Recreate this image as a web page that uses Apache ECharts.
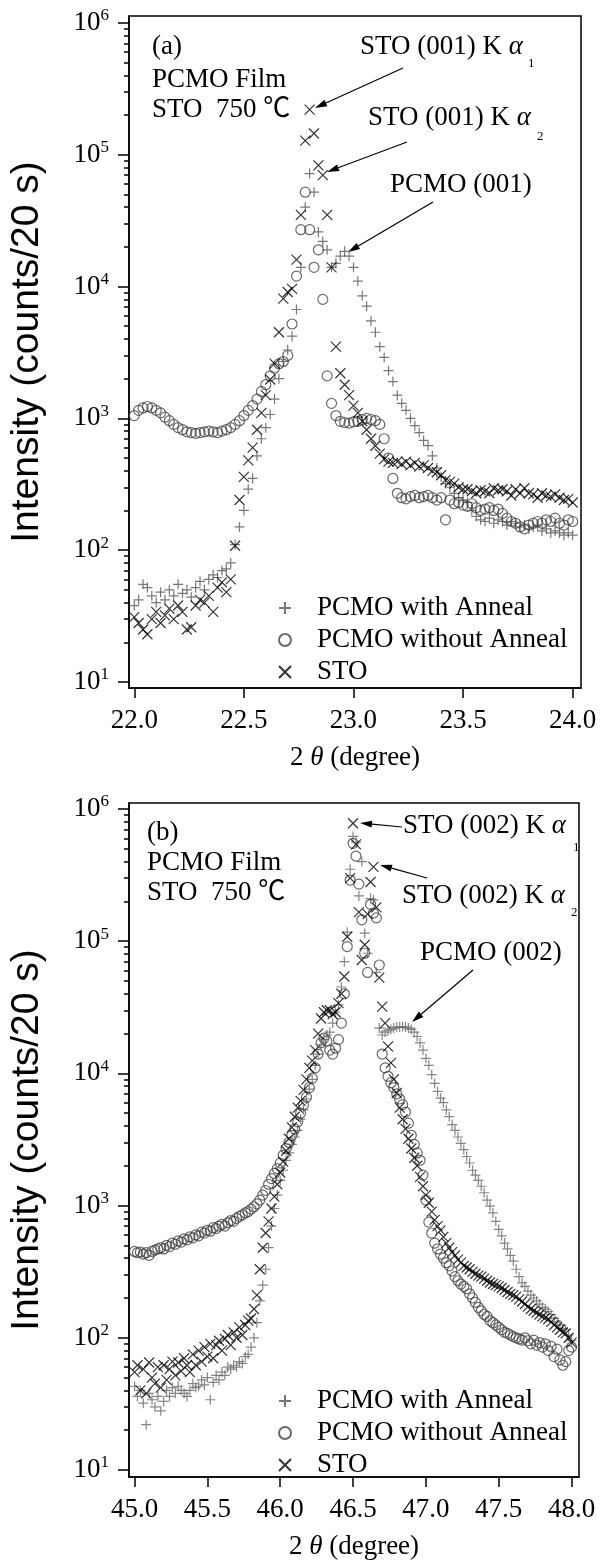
<!DOCTYPE html>
<html>
<head>
<meta charset="utf-8">
<script src="https://cdn.jsdelivr.net/npm/echarts@6.0.0/dist/echarts.min.js"></script>
<style>
  html, body { margin: 0; padding: 0; background: #fff; }
  #chart { width: 608px; height: 1561px; }
</style>
</head>
<body>
<div id="chart"></div>
<script>
// panel (a): 2theta scan around STO (001)
var xTop = [
  22.00, 22.02, 22.04, 22.06, 22.08, 22.10, 22.12, 22.14, 22.16, 22.18,
  22.20, 22.22, 22.24, 22.26, 22.28, 22.30, 22.32, 22.34, 22.36, 22.38,
  22.40, 22.42, 22.44, 22.46, 22.48, 22.50, 22.52, 22.54, 22.56, 22.58,
  22.60, 22.62, 22.64, 22.66, 22.68, 22.70, 22.72, 22.74, 22.76, 22.78,
  22.80, 22.82, 22.84, 22.86, 22.88, 22.90, 22.92, 22.94, 22.96, 22.98,
  23.00, 23.02, 23.04, 23.06, 23.08, 23.10, 23.12, 23.14, 23.16, 23.18,
  23.20, 23.22, 23.24, 23.26, 23.28, 23.30, 23.32, 23.34, 23.36, 23.38,
  23.40, 23.42, 23.44, 23.46, 23.48, 23.50, 23.52, 23.54, 23.56, 23.58,
  23.60, 23.62, 23.64, 23.66, 23.68, 23.70, 23.72, 23.74, 23.76, 23.78,
  23.80, 23.82, 23.84, 23.86, 23.88, 23.90, 23.92, 23.94, 23.96, 23.98,
  24.00
];
var topAnneal = [
  38, 42, 55, 52, 45, 40, 48, 42, 50, 45,
  55, 47, 50, 44, 52, 58, 50, 60, 65, 62,
  70, 72, 80, 110, 150, 200, 290, 350, 520, 700,
  850, 1070, 1400, 2000, 2700, 3300, 4200, 6700, 14000, 40000,
  72000, 52000, 26000, 22000, 19000, 14000, 15000, 17000, 18500, 17000,
  14000, 11000, 8500, 7100, 5500, 4500, 3500, 2900, 2300, 1900,
  1500, 1300, 1150, 1000, 880, 780, 680, 620, 520, 420,
  360, 320, 300, 270, 250, 240, 230, 200, 180, 170,
  165, 175, 160, 170, 165, 155, 165, 160, 150, 155,
  145, 150, 155, 140, 145, 135, 140, 135, 130, 135,
  130
];
var topNoAnneal = [
  1050, 1150, 1200, 1230, 1200, 1150, 1100, 1020, 960, 900,
  850, 820, 790, 780, 770, 780, 790, 800, 790, 780,
  800, 820, 850, 900, 960, 1050, 1150, 1250, 1400, 1600,
  1800, 2100, 2400, 2600, 2700, 3000, 5200, 12000, 27000, 52000,
  27000, 14000, 19000, 8000, 2100, 1300, 1050, 950, 930, 920,
  940, 950, 980, 1000, 980, 960, 900, 700, 500, 350,
  270, 250, 245, 255, 260, 250, 255, 260, 250, 240,
  250, 170, 240, 225, 230, 220, 215, 225, 210, 200,
  205, 210, 200, 205, 190, 175, 165, 160, 150, 145,
  155, 160, 165, 160, 170, 165, 175, 160, 155, 170,
  165
];
var topSTO = [
  31, 28, 25, 23, 30, 34, 28, 32, 36, 30,
  38, 34, 25, 26, 38, 42, 40, 45, 34, 52,
  57, 48, 60, 108, 240, 360, 480, 600, 820, 1100,
  1500, 1970, 2600, 4500, 8100, 9100, 9600, 16000, 35000, 128000,
  220000, 145000, 83000, 70000, 35000, 14000, 3500, 2200, 1800, 1500,
  1250, 1100, 950, 820, 700, 620, 540, 490, 470, 460,
  470, 450, 470, 440, 460, 430, 440, 420, 400, 390,
  370, 340, 330, 320, 300, 290, 290, 280, 270, 285,
  280, 270, 295, 285, 290, 280, 260, 290, 270, 295,
  270, 265, 250, 270, 260, 255, 265, 250, 240, 245,
  230
];

// panel (b): 2theta scan around STO (002)
var xBot = [
  45.00, 45.02, 45.04, 45.06, 45.08, 45.10, 45.12, 45.14, 45.16, 45.18,
  45.20, 45.22, 45.24, 45.26, 45.28, 45.30, 45.32, 45.34, 45.36, 45.38,
  45.40, 45.42, 45.44, 45.46, 45.48, 45.50, 45.52, 45.54, 45.56, 45.58,
  45.60, 45.62, 45.64, 45.66, 45.68, 45.70, 45.72, 45.74, 45.76, 45.78,
  45.80, 45.82, 45.84, 45.86, 45.88, 45.90, 45.92, 45.94, 45.96, 45.98,
  46.00, 46.02, 46.04, 46.06, 46.08, 46.10, 46.12, 46.14, 46.16, 46.18,
  46.20, 46.22, 46.24, 46.26, 46.28, 46.30, 46.32, 46.34, 46.36, 46.38,
  46.40, 46.42, 46.44, 46.46, 46.48, 46.50, 46.52, 46.54, 46.56, 46.58,
  46.60, 46.62, 46.64, 46.66, 46.68, 46.70, 46.72, 46.74, 46.76, 46.78,
  46.80, 46.82, 46.84, 46.86, 46.88, 46.90, 46.92, 46.94, 46.96, 46.98,
  47.00, 47.02, 47.04, 47.06, 47.08, 47.10, 47.12, 47.14, 47.16, 47.18,
  47.20, 47.22, 47.24, 47.26, 47.28, 47.30, 47.32, 47.34, 47.36, 47.38,
  47.40, 47.42, 47.44, 47.46, 47.48, 47.50, 47.52, 47.54, 47.56, 47.58,
  47.60, 47.62, 47.64, 47.66, 47.68, 47.70, 47.72, 47.74, 47.76, 47.78,
  47.80, 47.82, 47.84, 47.86, 47.88, 47.90, 47.92, 47.94, 47.96, 47.98,
  48.00
];
var botAnneal = [
  43, 36, 40, 32, 22, 38, 34, 30, 36, 28,
  33, 40, 36, 42, 38, 43, 40, 38, 36, 40,
  45, 42, 43, 48, 44, 50, 34, 46, 52, 48,
  55, 52, 60, 58, 62, 60, 66, 64, 72, 75,
  85, 100, 130, 190, 250, 330, 480, 700, 950, 1200,
  1550, 1850, 2200, 2500, 2900, 3300, 3700, 4500, 5300, 6400,
  7600, 9000, 11500, 14000, 16500, 18000, 19500, 20500, 24000, 29000,
  33000, 45000, 70000, 117000, 350000, 620000, 560000, 220000, 400000, 115000,
  81000, 210000, 205000, 58000, 22000, 19500, 20500, 21000, 21500, 22000,
  22400, 22400, 22500, 22400, 22000, 21500, 20500, 19000, 17000, 15000,
  13000, 11500, 9800, 8400, 7300, 6500, 6000, 5300, 4700, 4100,
  3700, 3300, 2950, 2650, 2350, 2100, 1850, 1700, 1550, 1400,
  1250, 1100, 990, 880, 760, 660, 590, 520, 470, 420,
  380, 330, 290, 260, 245, 225, 210, 200, 190, 180,
  170, 165, 158, 150, 140, 132, 125, 118, 115, 105,
  95
];
var botNoAnneal = [
  450, 440, 445, 430, 440, 420, 450, 460, 470, 480,
  470, 500, 490, 520, 510, 540, 530, 560, 550, 580,
  570, 600, 590, 630, 620, 650, 640, 680, 670, 700,
  720, 700, 740, 770, 760, 800, 830, 850, 880, 900,
  940, 980, 1030, 1100, 1200, 1300, 1450, 1600, 1750, 1900,
  2100, 2400, 2700, 3000, 3400, 3800, 4300, 5000, 5800, 6600,
  7800, 9200, 11000, 14000, 17000, 18500, 17500, 15000, 14000, 15500,
  18000, 24000, 40000, 91000, 290000, 550000, 440000, 270000, 145000, 81000,
  58000, 190000, 163000, 150000, 66000, 14000, 11000, 9500, 8500, 7800,
  7000, 6400, 5800, 5100, 4200, 3400, 2900, 2500, 2200, 1700,
  1100, 750, 620, 520, 470, 430, 400, 370, 350, 320,
  290, 270, 255, 245, 235, 215, 200, 185, 170, 160,
  150, 145, 135, 130, 125, 120, 115, 110, 108, 105,
  102, 100, 98, 96, 100, 95, 90, 96, 88, 92,
  85, 90, 80, 86, 72, 82, 68, 62, 66, 80,
  85
];
var botSTO = [
  55, 62, 40, 58, 38, 65, 50, 45, 60, 42,
  62, 48, 58, 66, 52, 65, 56, 70, 62, 55,
  75, 62, 80, 66, 85, 72, 90, 70, 88, 95,
  80, 98, 105, 88, 110, 100, 120, 105, 125, 135,
  140, 165, 210, 330, 480, 620, 760, 950, 1170, 1450,
  1780, 2150, 2600, 3200, 3900, 4700, 5500, 6200, 7500, 9000,
  11000, 12500, 15000, 20000, 26000, 29000, 30000, 30000, 28000, 29000,
  34000, 40000, 54000, 108000, 300000, 780000, 540000, 166000, 72000, 94000,
  160000, 280000, 365000, 180000, 53000, 32000, 24000, 16000, 12000, 9000,
  7100, 5500, 4500, 3800, 3200, 2700, 2300, 2000, 1650, 1400,
  1200, 1050, 900, 780, 700, 650, 580, 520, 480, 445,
  420, 390, 370, 350, 340, 330, 315, 305, 295, 290,
  280, 270, 262, 255, 250, 245, 238, 230, 222, 215,
  210, 205, 195, 188, 180, 172, 165, 160, 155, 150,
  145, 142, 138, 132, 125, 120, 115, 110, 108, 100,
  92
];

var xTicksTop = [22.0, 22.5, 23.0, 23.5, 24.0];
var xTicksBot = [45.0, 45.5, 46.0, 46.5, 47.0, 47.5, 48.0];
var decades = [1, 2, 3, 4, 5, 6];
var names = ['PCMO with Anneal', 'PCMO without Anneal', 'STO'];

var serif = '"Liberation Serif", "Times New Roman", "Noto Sans CJK SC", serif';
var plusPath = 'path://M5,0L5,10M0,5L10,5';
var crossPath = 'path://M0,0L10,10M10,0L0,10';

// minor ticks of the log scale (2..9 x 10^n), in log10 units
var minorTicks = [];
for (var n = 1; n < 6; n++) {
  for (var k = 2; k < 10; k++) {
    minorTicks.push(n + Math.log10(k));
  }
}

function logPoints(xs, ys) {
  return xs.map(function (x, i) { return [x, Math.log10(ys[i])]; });
}

function xAxisFor(idx, min, max, ticks) {
  return {
    type: 'value', gridIndex: idx, min: min, max: max,
    name: '{a|2 }{g|θ}{a| (degree)}', nameLocation: 'middle', nameGap: 56,
    nameTextStyle: {
      rich: {
        a: { fontFamily: serif, fontSize: 27, color: '#000' },
        g: { fontFamily: serif, fontSize: 27, color: '#000', fontStyle: 'italic' }
      }
    },
    axisLine: { lineStyle: { color: '#000', width: 1.5 } },
    axisTick: { customValues: ticks, length: 10, inside: false, lineStyle: { color: '#000', width: 1.5 } },
    axisLabel: {
      customValues: ticks, margin: 19, color: '#000', fontFamily: serif, fontSize: 27,
      formatter: function (v) { return v.toFixed(1); }
    },
    splitLine: { show: false }
  };
}

function yAxesFor(idx, min, max) {
  return [{
    type: 'value', gridIndex: idx, min: min, max: max, position: 'left',
    name: 'Intensity (counts/20 s)', nameLocation: 'middle', nameGap: 82,
    nameTextStyle: { fontFamily: '"Liberation Sans", Arial, sans-serif', fontSize: 39, color: '#000' },
    axisLine: { lineStyle: { color: '#000', width: 1.5 } },
    axisTick: { customValues: decades, length: 11, lineStyle: { color: '#000', width: 1.5 } },
    axisLabel: {
      customValues: decades, margin: 20,
      formatter: function (v) { return '{b|10}{s|' + Math.round(v) + '}'; },
      rich: {
        b: { fontFamily: serif, fontSize: 27, color: '#000' },
        s: { fontFamily: serif, fontSize: 17, color: '#000', padding: [0, 0, 14, 0] }
      }
    },
    splitLine: { show: false }
  }, {
    type: 'value', gridIndex: idx, min: min, max: max, position: 'left',
    axisLine: { show: false },
    axisTick: { customValues: minorTicks, length: 5, lineStyle: { color: '#000', width: 1.5 } },
    axisLabel: { show: false },
    splitLine: { show: false }
  }];
}

function scatter(name, idx, data, symbol, size, color) {
  return {
    name: name, type: 'scatter', xAxisIndex: idx, yAxisIndex: idx * 2,
    data: data, symbol: symbol, symbolSize: size, symbolKeepAspect: true,
    itemStyle: { color: 'transparent', borderColor: color, borderWidth: 1.2 },
    emphasis: { disabled: true }
  };
}

function label(text, x, y) {
  return { type: 'text', x: x, y: y, style: { text: text, font: '27px ' + serif, fill: '#000', verticalAlign: 'middle' } };
}
function peakLabel(text, x, y) {
  return {
    type: 'text', x: x, y: y,
    style: {
      text: '{n|' + text + ' }{g|α}', verticalAlign: 'middle',
      rich: {
        n: { fontFamily: serif, fontSize: 27, fill: '#000' },
        g: { fontFamily: serif, fontSize: 27, fill: '#000', fontStyle: 'italic' }
      }
    }
  };
}
function sub(text, x, y) {
  return { type: 'text', x: x, y: y, style: { text: text, font: '13px ' + serif, fill: '#000', verticalAlign: 'middle' } };
}
function arrow(x1, y1, x2, y2) {
  var a = Math.atan2(y2 - y1, x2 - x1), L = 12, W = 3.5;
  var bx = x2 - L * Math.cos(a), by = y2 - L * Math.sin(a);
  var px = -Math.sin(a) * W, py = Math.cos(a) * W;
  return [
    { type: 'line', shape: { x1: x1, y1: y1, x2: bx, y2: by }, style: { stroke: '#000', lineWidth: 1.2 } },
    { type: 'polygon', shape: { points: [[x2, y2], [bx + px, by + py], [bx - px, by - py]] }, style: { fill: '#000' } }
  ];
}

var graphics = [
  label('(a)', 152, 47), label('PCMO Film', 152, 80), label('STO  750 ℃', 152, 110),
  peakLabel('STO (001) K', 360, 47), sub('1', 528, 64),
  peakLabel('STO (001) K', 368, 118), sub('2', 537, 137),
  label('PCMO (001)', 390, 185),
  label('(b)', 147, 833), label('PCMO Film', 147, 863), label('STO  750 ℃', 147, 893),
  peakLabel('STO (002) K', 403, 826), sub('1', 573, 848),
  peakLabel('STO (002) K', 402, 896), sub('2', 571, 913),
  label('PCMO (002)', 420, 953)
].concat(
  arrow(403, 68, 315, 108), arrow(407, 142, 327, 172), arrow(433, 202, 348, 252),
  arrow(402, 827, 360, 823), arrow(427, 878, 380, 865), arrow(473, 970, 412, 1022)
);

function legendAt(top) {
  return {
    data: names, orient: 'vertical', left: 273, top: top,
    itemWidth: 12, itemHeight: 12, itemGap: 4, selectedMode: false,
    textStyle: { fontFamily: serif, fontSize: 27, color: '#000', lineHeight: 28, padding: [0, 0, 0, 21] }
  };
}

var chart = echarts.init(document.getElementById('chart'));
chart.setOption({
  animation: false,
  backgroundColor: '#fff',
  grid: [
    { left: 128, top: 16, width: 453, height: 672, show: true, borderColor: '#000', borderWidth: 1.5 },
    { left: 128, top: 803, width: 451, height: 675, show: true, borderColor: '#000', borderWidth: 1.5 }
  ],
  xAxis: [
    xAxisFor(0, 21.976, 24.038, xTicksTop),
    xAxisFor(1, 44.962, 48.051, xTicksBot)
  ],
  yAxis: yAxesFor(0, 0.954, 6.053).concat(yAxesFor(1, 0.947, 6.045)),
  legend: [legendAt(589), legendAt(1382)],
  series: [
    scatter(names[0], 0, logPoints(xTop, topAnneal), plusPath, 10, '#555'),
    scatter(names[1], 0, logPoints(xTop, topNoAnneal), 'circle', 10, '#444'),
    scatter(names[2], 0, logPoints(xTop, topSTO), crossPath, 10, '#000'),
    scatter(names[0], 1, logPoints(xBot, botAnneal), plusPath, 10, '#666'),
    scatter(names[1], 1, logPoints(xBot, botNoAnneal), 'circle', 10, '#444'),
    scatter(names[2], 1, logPoints(xBot, botSTO), crossPath, 10, '#000')
  ],
  graphic: graphics
});
</script>
</body>
</html>
